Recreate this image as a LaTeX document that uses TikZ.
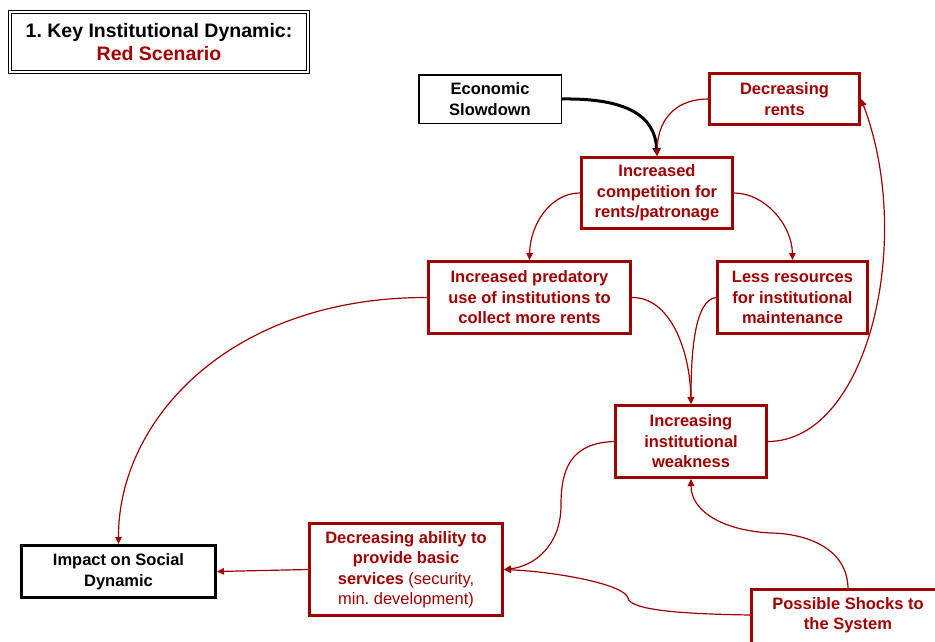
\documentclass[tikz,border=0pt]{standalone}
\usepackage{fontspec}
\setmainfont{Liberation Sans}
\usetikzlibrary{arrows.meta}
\definecolor{scred}{RGB}{160,0,0}
\frenchspacing
\begin{document}
\begin{tikzpicture}[x=1pt,y=-1pt,
  box/.style={rectangle, inner sep=0pt, align=center,
    font=\bfseries\fontsize{16.5}{20.5}\selectfont},
  redbox/.style={box, draw=scred, line width=3pt, text=scred},
  blackbox/.style={box, draw=black, line width=1.5pt},
  heavybox/.style={box, draw=black, line width=3pt},
  link/.style={draw=scred, line width=1.2pt, -{Triangle[length=7pt,width=6.5pt]}},
  mainlink/.style={draw=black, line width=3pt, -{Triangle[length=8pt,width=8pt]}}]
\useasboundingbox (0,0) rectangle (935,641);
\clip (0,0) rectangle (935,641);

% title panel with a double frame
\node[box, draw=black, double, double distance=1.8pt, line width=1.2pt,
      minimum width=298pt, minimum height=60pt,
      font=\bfseries\fontsize{19.5}{23}\selectfont] (title) at (159,42)
  {1. Key Institutional Dynamic:\\\textcolor{scred}{Red Scenario}};

% boxes
\node[blackbox, minimum width=142.5pt, minimum height=48.5pt] (econ) at (490,99) {Economic\\Slowdown};
\node[redbox, minimum width=150pt, minimum height=51pt] (rents) at (784.5,99) {Decreasing\\rents};
\node[redbox, minimum width=151pt, minimum height=71pt] (comp) at (657,193) {Increased\\competition for\\rents/patronage};
\node[redbox, minimum width=202pt, minimum height=72pt] (pred) at (529.5,297.5) {Increased predatory\\use of institutions to\\collect more rents};
\node[redbox, minimum width=150pt, minimum height=72pt] (less) at (792.5,297.5) {Less resources\\for institutional\\maintenance};
\node[redbox, minimum width=151pt, minimum height=72pt] (weak) at (691,441.5) {Increasing\\institutional\\weakness};
\node[heavybox, minimum width=194pt, minimum height=52pt] (impact) at (118.5,571.5) {Impact on Social\\Dynamic};
\node[redbox, minimum width=193pt, minimum height=92pt] (ability) at (406,569.5)
  {Decreasing ability to\\provide basic\\services {\mdseries(security,}\\{\mdseries min. development)}};
% the shocks box runs on past the right edge of the page
\node[box, text=scred, minimum width=193pt, minimum height=51pt] (shocks) at (848,615) {Possible Shocks to\\the System};
\draw[scred, line width=3pt] (shocks.north west) rectangle ([shift={(40pt,-40pt)}]shocks.south east);

% connectors
\draw[mainlink] (econ.east) .. controls (625,98) and (655,115) .. (comp.north);
\draw[link] (rents.west) .. controls (680,99) and (658,115) .. (comp.north);
\draw[link] (comp.west) .. controls (550,193) and (530,225) .. (pred.north);
\draw[link] (comp.east) .. controls (765,193) and (792,225) .. (less.north);
\draw[link] (pred.east) .. controls (670,297) and (690,350) .. (weak.north);
\draw[link] (less.west) .. controls (695,300) and (691,350) .. (weak.north);
\draw[link] (weak.east) .. controls (868,441) and (915,240) .. (rents.east);
\draw[link] (pred.west) .. controls (230,297) and (118,420) .. (impact.north);
\draw[link] (weak.west) .. controls (570,443) and (561,470) .. (561,505)
  .. controls (561,545) and (535,566) .. (ability.east);
\draw[link] (shocks.north) .. controls (848,545) and (800,533) .. (770,533)
  .. controls (720,530) and (691,510) .. (weak.south);
\draw[link] (shocks.west) .. controls (680,614) and (630,610) .. (628,598)
  .. controls (625,585) and (560,572) .. (ability.east);
\draw[link] (ability.west) -- (impact.east);
\end{tikzpicture}
\end{document}
